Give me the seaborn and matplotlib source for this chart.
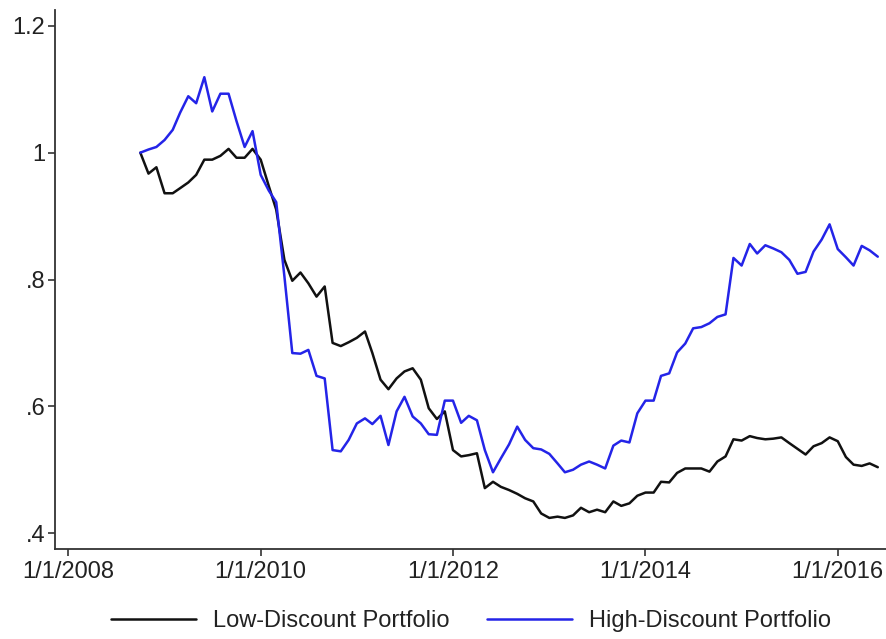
import numpy as np
import pandas as pd
import matplotlib
matplotlib.use("Agg")
import matplotlib.pyplot as plt
import matplotlib.dates as mdates
import seaborn as sns

# Monthly cumulative value of the two portfolios, Oct 2008 - Jun 2016
months = pd.date_range("2008-10-01", periods=93, freq="MS")

low_discount = [
    1.000, 0.967, 0.977, 0.936, 0.936, 0.944, 0.953, 0.965, 0.989, 0.989,
    0.995, 1.006, 0.992, 0.992, 1.006, 0.989, 0.947, 0.910, 0.831, 0.798,
    0.811, 0.794, 0.773, 0.789, 0.700, 0.695, 0.701, 0.708, 0.718, 0.684,
    0.642, 0.627, 0.644, 0.655, 0.660, 0.642, 0.597, 0.580, 0.592, 0.531,
    0.521, 0.523, 0.526, 0.471, 0.481, 0.473, 0.468, 0.462, 0.455, 0.450,
    0.431, 0.424, 0.426, 0.424, 0.428, 0.440, 0.433, 0.437, 0.433, 0.450,
    0.443, 0.447, 0.459, 0.464, 0.464, 0.481, 0.480, 0.495, 0.502, 0.502,
    0.502, 0.497, 0.513, 0.521, 0.548, 0.546, 0.553, 0.550, 0.548, 0.549,
    0.551, 0.542, 0.533, 0.524, 0.537, 0.542, 0.551, 0.545, 0.520, 0.508,
    0.506, 0.510, 0.504,
]

high_discount = [
    1.000, 1.005, 1.009, 1.020, 1.036, 1.063, 1.089, 1.078, 1.119, 1.065,
    1.093, 1.093, 1.050, 1.009, 1.034, 0.965, 0.940, 0.922, 0.805, 0.684,
    0.683, 0.689, 0.648, 0.644, 0.531, 0.529, 0.547, 0.573, 0.581, 0.572,
    0.585, 0.539, 0.592, 0.615, 0.584, 0.573, 0.556, 0.555, 0.609, 0.609,
    0.574, 0.585, 0.578, 0.531, 0.496, 0.518, 0.540, 0.568, 0.547, 0.534,
    0.532, 0.525, 0.510, 0.496, 0.500, 0.508, 0.513, 0.508, 0.502, 0.538,
    0.546, 0.543, 0.589, 0.609, 0.609, 0.648, 0.652, 0.685, 0.699, 0.723,
    0.725, 0.731, 0.741, 0.745, 0.834, 0.822, 0.856, 0.841, 0.854, 0.849,
    0.843, 0.831, 0.809, 0.812, 0.844, 0.863, 0.887, 0.848, 0.835, 0.822,
    0.853, 0.846, 0.836,
]

series_names = ["Low-Discount Portfolio", "High-Discount Portfolio"]
series_colors = ["#111111", "#2424e8"]

x_tick_dates = ["2008-01-01", "2010-01-01", "2012-01-01", "2014-01-01", "2016-01-01"]
x_tick_labels = ["1/1/2008", "1/1/2010", "1/1/2012", "1/1/2014", "1/1/2016"]
y_ticks = [0.4, 0.6, 0.8, 1.0, 1.2]
y_tick_labels = [".4", ".6", ".8", "1", "1.2"]

df = pd.DataFrame({
    "date": np.concatenate([months.values, months.values]),
    "value": low_discount + high_discount,
    "Portfolio": [series_names[0]] * len(months) + [series_names[1]] * len(months),
})

sns.set_style("ticks")
plt.rcParams["font.family"] = ["Liberation Sans", "DejaVu Sans"]

fig = plt.figure(figsize=(8.87, 6.39), dpi=100)
ax = fig.add_axes([55 / 887, 1 - 549 / 639, 832 / 887, 539 / 639])

sns.lineplot(
    data=df, x="date", y="value", hue="Portfolio",
    hue_order=series_names, palette=dict(zip(series_names, series_colors)),
    linewidth=1.8, ax=ax,
)

ax.set_xlim(pd.Timestamp("2007-11-12"), pd.Timestamp("2016-07-06"))
ax.set_ylim(0.375, 1.225)

ax.set_xticks([mdates.date2num(pd.Timestamp(d)) for d in x_tick_dates])
ax.set_xticklabels(x_tick_labels)
ax.set_yticks(y_ticks)
ax.set_yticklabels(y_tick_labels)
ax.set_xlabel("")
ax.set_ylabel("")

for side in ["top", "right"]:
    ax.spines[side].set_visible(False)
for side in ["left", "bottom"]:
    ax.spines[side].set_color("#333333")
    ax.spines[side].set_linewidth(1.3)

ax.tick_params(axis="both", length=5, width=1.2, color="#333333",
               labelsize=17, labelcolor="#222222")
ax.tick_params(axis="y", pad=2)
ax.tick_params(axis="x", pad=4)

handles, labels = ax.get_legend_handles_labels()
ax.legend(
    handles, labels, loc="center", bbox_to_anchor=(0.5, -0.134),
    ncol=2, frameon=False, fontsize=17, handlelength=3.6,
    handletextpad=0.7, columnspacing=1.6, labelcolor="#222222",
)

fig.savefig("out.png", dpi=100)
